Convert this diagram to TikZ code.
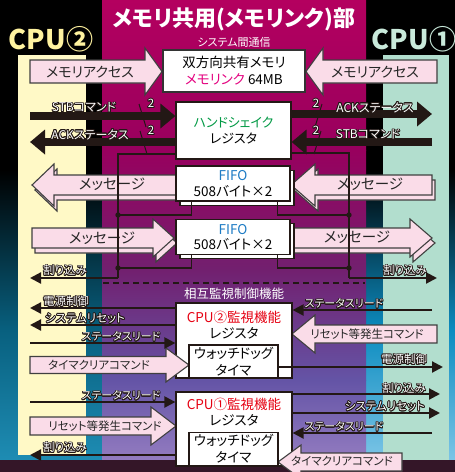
\documentclass[tikz,border=0pt]{standalone}
\usepackage{fontspec}
\setmainfont[RawFeature=+palt]{Noto Sans CJK JP}
\usepackage[copies]{contour}
\contourlength{0.8pt}
\contournumber{16}
\usetikzlibrary{arrows.meta}
\definecolor{ink}{HTML}{231815}
\definecolor{pinkf}{HTML}{FADCE8}
\definecolor{yel}{HTML}{FFF9C6}
\definecolor{mint}{HTML}{B2DECE}
\definecolor{magA}{HTML}{B4005F}
\definecolor{magB}{HTML}{98005E}
\definecolor{magC}{HTML}{72206F}
\definecolor{vioA}{HTML}{6454A6}
\definecolor{vioB}{HTML}{9A82C4}
\definecolor{tealA}{HTML}{08607F}
\definecolor{tealB}{HTML}{2090B8}
\definecolor{cyanA}{HTML}{0C8CC0}
\definecolor{cyanB}{HTML}{86CAEA}
\definecolor{mlink}{HTML}{E4007F}
\definecolor{hsgreen}{HTML}{009944}
\definecolor{fifoblue}{HTML}{1D7BC4}
\definecolor{cpured}{HTML}{E60012}
\definecolor{cputwo}{HTML}{FFF3A0}
\definecolor{cpuone}{HTML}{C9EADB}
\definecolor{bottomdark}{HTML}{341628}
\newcommand\fsz[2]{\fontsize{#1}{#2}\selectfont}
\newcommand\outl[1]{\contour{ink}{#1}}
% block arrow: [opts] tail x, tip x, y centre, body half, head half, signed head length
\newcommand\blockarrow[7][]{\draw[barrow,#1] ({#2},{#4-#5}) -- ({#3-(#7)},{#4-#5}) -- ({#3-(#7)},{#4-#6}) -- ({#3},{#4}) -- ({#3-(#7)},{#4+#6}) -- ({#3-(#7)},{#4+#5}) -- ({#2},{#4+#5}) -- cycle;}
\tikzset{
  barrow/.style={draw=black!75, line width=1.1pt, fill=pinkf, line join=miter},
  boxw/.style={draw=ink, line width=1.2pt, fill=white, inner sep=0pt, align=center},
  tarrow/.style={draw=ink, line width=2.2pt, -{Triangle[length=11pt,width=11pt]}},
  karrow/.style={draw=ink, line width=8pt, -{Triangle[length=15pt,width=24pt]}},
  tline/.style={draw=ink, line width=1.4pt},
  lab/.style={text=white, font=\fsz{11.5}{12}, inner sep=0pt},
  atext/.style={text=black!85, font=\fsz{14}{15}, inner sep=0pt},
}
\begin{document}
\begin{tikzpicture}[x=1pt,y=-1pt]
\useasboundingbox (0,0) rectangle (455,472);
% ---------- background ----------
\fill[black] (0,0) rectangle (455,472);
\shade[top color=black, bottom color=tealA] (0,170) rectangle (102,330);
\shade[top color=tealA, bottom color=tealB] (0,330) rectangle (102,472);
\shade[top color=black, bottom color=cyanA] (366,170) rectangle (455,330);
\shade[top color=cyanA, bottom color=cyanB] (366,330) rectangle (455,472);
\shade[top color=magA, bottom color=magB] (102,0) rectangle (366,150);
\shade[top color=magB, bottom color=magC] (102,150) rectangle (366,270);
\shade[top color=magC, bottom color=vioA] (102,270) rectangle (366,380);
\shade[top color=vioA, bottom color=vioB] (102,380) rectangle (366,472);
\fill[bottomdark] (0,460) rectangle (455,472);
\fill[yel] (18,55) rectangle (86,455);
\fill[mint] (383,55) rectangle (449,460);
% ---------- titles ----------
\node[text=white, font=\bfseries\fsz{22}{23}] (title) at (234,19) {メモリ共用(メモリンク)部};
\node[text=white, font=\fsz{11}{12}] (sub) at (234,42) {システム間通信};
\node[text=cputwo, font=\bfseries\fsz{27}{27}] (cpu2) at (51,39) {CPU②};
\node[text=cpuone, font=\bfseries\fsz{27}{27}] (cpu1) at (414,39) {CPU①};
% ---------- dashed separator ----------
\coordinate (dashL) at (103,283);
\coordinate (dashR) at (365,283);
\draw[ink, line width=1.3pt, dash pattern=on 6pt off 4pt] (dashL) -- (dashR);
\node[text=white, font=\fsz{12.5}{13}] (mutual) at (234,294) {相互監視制御機能};
% ---------- block arrows (under boxes) ----------
\blockarrow{30}{162}{71.5}{11.5}{23.5}{17}
\blockarrow{437}{306}{71.5}{11.5}{23.5}{-17}
\blockarrow[shift={(3,5)}]{176}{32}{185}{10}{21}{-22}
\blockarrow{176}{32}{185}{10}{21}{-22}
\blockarrow[shift={(3,5)}]{432}{291}{185}{10}{21}{-24}
\blockarrow{432}{291}{185}{10}{21}{-24}
\blockarrow[shift={(3,5)}]{32}{174}{238}{10}{19}{21}
\blockarrow{32}{174}{238}{10}{19}{21}
\blockarrow[shift={(3,5)}]{291}{432}{238}{10}{19}{22}
\blockarrow{291}{432}{238}{10}{19}{22}
\blockarrow{30}{176}{426}{9}{19}{25}
\blockarrow{437}{292}{334}{9}{19}{-23}
% ---------- boxes ----------
\node[boxw, draw=black!80, line width=2.4pt, minimum width=142pt, minimum height=42pt, font=\fsz{13.5}{17}] (mem) at (234,71) {双方向共有メモリ\\\textcolor{mlink}{メモリンク} 64MB};
\node[boxw, minimum width=115pt, minimum height=57pt, font=\fsz{13}{16}] (hs) at (233.5,130.5) {\textcolor{hsgreen}{ハンドシェイク}\\レジスタ};
\node[boxw, minimum width=114pt, minimum height=35pt] (f1back) at (237,188) {};
\node[boxw, minimum width=114pt, minimum height=35pt, font=\fsz{13.5}{15.5}] (f1) at (233,183.5) {\textcolor{fifoblue}{FIFO}\\508バイト×2};
\node[boxw, minimum width=114pt, minimum height=35pt] (f2back) at (237,241) {};
\node[boxw, minimum width=114pt, minimum height=35pt, font=\fsz{13.5}{15.5}] (f2) at (233,237) {\textcolor{fifoblue}{FIFO}\\508バイト×2};
\node[boxw, minimum width=116pt, minimum height=75pt] (mon2) at (234,340.5) {};
\node[boxw, minimum width=116pt, minimum height=74pt] (mon1) at (234,429) {};
\node[inner sep=0pt, align=center, font=\fsz{13.5}{16}] (mon2t) at (234,325) {\textcolor{cpured}{CPU②監視機能}\\レジスタ};
\node[inner sep=0pt, align=center, font=\fsz{13.5}{16}] (mon1t) at (234,412) {\textcolor{cpured}{CPU①監視機能}\\レジスタ};
% timer clear arrows cross the outer boxes
\blockarrow{30}{189}{365}{8.5}{17}{23}
\blockarrow{402}{278}{462}{9}{17}{-23}
\node[boxw, minimum width=89pt, minimum height=33pt, font=\fsz{13.5}{17}] (wd2) at (233.5,361.5) {ウォッチドッグ\\タイマ};
\node[boxw, minimum width=89pt, minimum height=33pt, font=\fsz{13.5}{17}] (wd1) at (233.5,449) {ウォッチドッグ\\タイマ};
% ---------- block arrow texts ----------
\node[atext] (tmemL) at (90,72) {メモリアクセス};
\node[atext] (tmemR) at (375,72) {メモリアクセス};
\node[atext, font=\fsz{14.5}{15}] (tmsg1L) at (112,184) {メッセージ};
\node[atext, font=\fsz{14.5}{15}] (tmsg1R) at (370,184) {メッセージ};
\node[atext, font=\fsz{14.5}{15}] (tmsg2L) at (102,238) {メッセージ};
\node[atext, font=\fsz{14.5}{15}] (tmsg2R) at (357,237) {メッセージ};
\node[atext, font=\fsz{11.5}{12}] (ttcL) at (99,365) {タイマクリアコマンド};
\node[atext, font=\fsz{11.5}{12}] (trsR) at (367,334) {リセット等発生コマンド};
\node[atext, font=\fsz{11.5}{12}] (trsL) at (105,426) {リセット等発生コマンド};
\node[atext, font=\fsz{11.5}{12}] (ttcR) at (342,461) {タイマクリアコマンド};
% ---------- interrupt bus lines ----------
\coordinate (jl) at (118,154);
\coordinate (jr) at (349,153);
\coordinate (dl1) at (118,215);
\coordinate (dl2) at (118,268);
\coordinate (dr1) at (349,215);
\coordinate (dr2) at (349,268);
\coordinate (il) at (118,278);
\coordinate (ir) at (349,278);
\coordinate (ilEnd) at (30,278);
\coordinate (irEnd) at (437,278);
\draw[tline] (hs.west |- jl) -- (jl) -- (il);
\draw[tline] (hs.east |- jr) -- (jr) -- (ir);
\draw[tline] ([xshift=16pt]f1.south west) |- (dl1);
\draw[tline] ([xshift=16pt]f2.south west) |- (dl2);
\draw[tline] ([xshift=-13pt]f1.south east) |- (dr1);
\draw[tline] ([xshift=-13pt]f2.south east) |- (dr2);
\foreach \p in {dl1,dl2,dr1,dr2} \fill[ink] (\p) circle (2.7);
\draw[tarrow] (il) -- (ilEnd);
\draw[tarrow] (ir) -- (irEnd);
% ---------- handshake thick arrows ----------
\coordinate (stbL) at (30,116);
\coordinate (ackL) at (30,142);
\coordinate (ackR) at (432,114);
\coordinate (stbR) at (432,142);
\draw[karrow] (stbL) -- (hs.west |- stbL);
\draw[karrow] (hs.west |- ackL) -- (ackL);
\draw[karrow] (hs.east |- ackR) -- (ackR);
\draw[karrow] (stbR) -- (hs.east |- stbR);
\coordinate (sl1a) at (139,104); \coordinate (sl1b) at (146,127);
\coordinate (sl2a) at (140,131); \coordinate (sl2b) at (147,154);
\coordinate (sr1a) at (322,104); \coordinate (sr1b) at (315,127);
\coordinate (sr2a) at (321,131); \coordinate (sr2b) at (314,154);
\draw[ink, line width=1pt] (sl1a) -- (sl1b);
\draw[ink, line width=1pt] (sl2a) -- (sl2b);
\draw[ink, line width=1pt] (sr1a) -- (sr1b);
\draw[ink, line width=1pt] (sr2a) -- (sr2b);
% ---------- monitoring thin arrows ----------
\coordinate (pwrL) at (30,308);
\coordinate (rstL) at (30,325);
\coordinate (strL1) at (30,343);
\coordinate (strL2) at (30,402);
\coordinate (irqL2) at (30,455);
\coordinate (strR1) at (432,310);
\coordinate (pwrR) at (443,367);
\coordinate (irqR2) at (440,394);
\coordinate (rstR) at (440,413);
\coordinate (strR2) at (432,433);
\draw[tarrow] (mon2.west |- pwrL) -- (pwrL);
\draw[tarrow] (mon2.west |- rstL) -- (rstL);
\draw[tarrow] (strL1) -- (mon2.west |- strL1);
\draw[tarrow] (strR1) -- (mon2.east |- strR1);
\draw[tarrow] (wd2.east |- pwrR) -- (pwrR);
\draw[tarrow] (strL2) -- (mon1.west |- strL2);
\draw[tarrow] (mon1.west |- irqL2) -- (irqL2);
\draw[tarrow] (mon1.east |- irqR2) -- (irqR2);
\draw[tarrow] (mon1.east |- rstR) -- (rstR);
\draw[tarrow] (strR2) -- (mon1.east |- strR2);
% ---------- outlined labels ----------
\node[lab, font=\fsz{12}{13}] (lstbL) at (84,108) {\outl{STBコマンド}};
\node[lab, font=\fsz{12}{13}] (lackL) at (90,135) {\outl{ACKステータス}};
\node[lab, font=\fsz{12}{13}] (lackR) at (375,108) {\outl{ACKステータス}};
\node[lab, font=\fsz{12}{13}] (lstbR) at (368,135) {\outl{STBコマンド}};
\node[lab, font=\fsz{11.5}{12}] (n1) at (151,104) {\outl{2}};
\node[lab, font=\fsz{11.5}{12}] (n2) at (151,131) {\outl{2}};
\node[lab, font=\fsz{11.5}{12}] (n3) at (316,104) {\outl{2}};
\node[lab, font=\fsz{11.5}{12}] (n4) at (316,131) {\outl{2}};
\node[lab] (lirqL) at (65,271) {\outl{割り込み}};
\node[lab] (lirqR) at (405,271) {\outl{割り込み}};
\node[lab] (lpwrL) at (66,302) {\outl{電源制御}};
\node[lab] (lrstL) at (85,319) {\outl{システムリセット}};
\node[lab, font=\fsz{11}{11}] (lstrL1) at (121,337) {\outl{ステータスリード}};
\node[lab, font=\fsz{11}{11}] (lstrR1) at (344,304) {\outl{ステータスリード}};
\node[lab] (lpwrR) at (404,360) {\outl{電源制御}};
\node[lab, font=\fsz{11}{11}] (lstrL2) at (121,396) {\outl{ステータスリード}};
\node[lab] (lirqL2) at (65,448) {\outl{割り込み}};
\node[lab] (lirqR2) at (404,389) {\outl{割り込み}};
\node[lab] (lrstR) at (385,407) {\outl{システムリセット}};
\node[lab, font=\fsz{11}{11}] (lstrR2) at (344,427) {\outl{ステータスリード}};
\end{tikzpicture}
\end{document}
